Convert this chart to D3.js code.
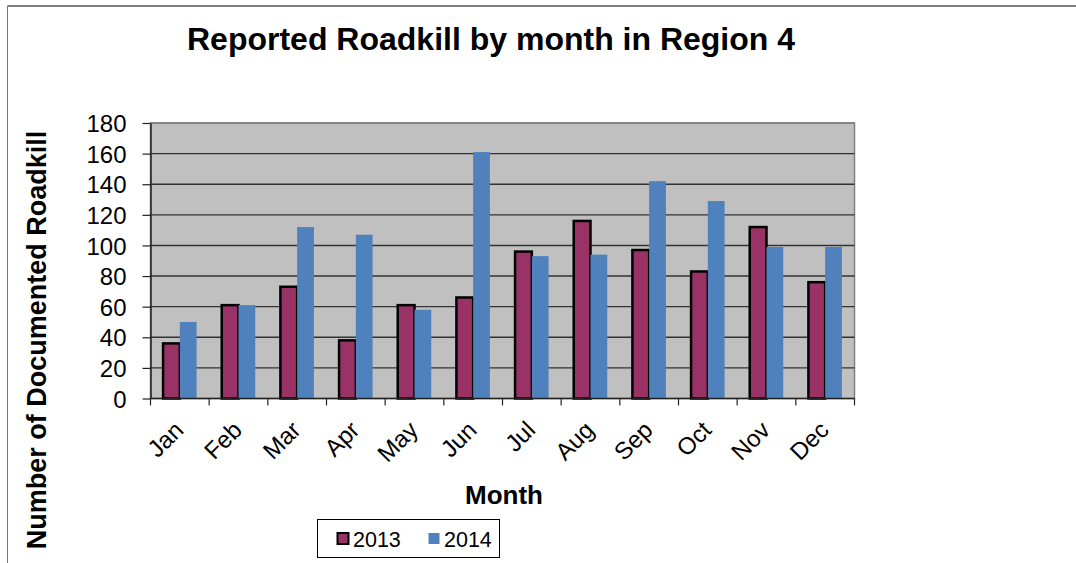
<!DOCTYPE html>
<html>
<head>
<meta charset="utf-8">
<script src="https://cdn.jsdelivr.net/npm/d3@7"></script>
<style>
  body { margin: 0; background: #fff; }
  svg { display: block; font-family: "Liberation Sans", Arial, sans-serif; }
</style>
</head>
<body>
<svg id="chart" width="1076" height="563"></svg>
<script>
const months = ["Jan","Feb","Mar","Apr","May","Jun","Jul","Aug","Sep","Oct","Nov","Dec"];
const series2013 = [36, 61, 73, 38, 61, 66, 96, 116, 97, 83, 112, 76];
const series2014 = [50, 61, 112, 107, 58, 161, 93, 94, 142, 129, 99, 99];
const seriesNames = ["2013", "2014"];
const yTicks = [0, 20, 40, 60, 80, 100, 120, 140, 160, 180];

const colors = { "2013": "#993366", "2014": "#4F81BD" };

(function () {
const svg = d3.select("#chart");
const pL = 150.5, pR = 854.5, pT = 123, pB = 398.5;

// Outer frame (top and left edges visible)
svg.append("line").attr("x1", 7.5).attr("x2", 1076).attr("y1", 6).attr("y2", 6)
  .attr("stroke", "#555").attr("stroke-width", 1.5);
svg.append("line").attr("x1", 7.5).attr("x2", 7.5).attr("y1", 6).attr("y2", 563)
  .attr("stroke", "#777").attr("stroke-width", 1);

const x0 = d3.scaleBand().domain(months).range([pL, pR]).paddingInner(0).paddingOuter(0);
const barW = x0.bandwidth() / 3.5;
const x1 = d3.scaleBand().domain(seriesNames).range([0, barW * 2]);
const y = d3.scaleLinear().domain([0, 180]).range([pB, pT]);

// plot background
svg.append("rect").attr("x", pL).attr("y", pT).attr("width", pR - pL).attr("height", pB - pT)
  .attr("fill", "#C0C0C0").attr("stroke", "#808080").attr("stroke-width", 1.5);

// gridlines
svg.append("g").selectAll("line").data(yTicks.filter(d => d > 0)).join("line")
  .attr("x1", pL).attr("x2", pR)
  .attr("y1", d => y(d)).attr("y2", d => y(d))
  .attr("stroke", d => d === 180 ? "#808080" : "#333").attr("stroke-width", 1.4);

// bars
const data = months.map((m, i) => ({ m, v: { "2013": series2013[i], "2014": series2014[i] } }));
const g = svg.append("g");
const groups = g.selectAll("g").data(data).join("g")
  .attr("transform", d => `translate(${x0(d.m) + (x0.bandwidth() - barW * 2) / 2},0)`);
groups.selectAll("rect").data(d => seriesNames.map(s => ({ s, v: d.v[s] }))).join("rect")
  .attr("x", d => x1(d.s))
  .attr("width", x1.bandwidth())
  .attr("y", d => y(d.v))
  .attr("height", d => pB - y(d.v))
  .attr("fill", d => colors[d.s])
  .attr("stroke", d => d.s === "2013" ? "#000" : "none")
  .attr("stroke-width", 2.5);

// y axis
const yAxis = d3.axisLeft(y).tickValues(yTicks).tickSize(8).tickSizeOuter(0).tickPadding(16);
const yg = svg.append("g").attr("transform", `translate(${pL},0)`).call(yAxis);
yg.select(".domain").attr("stroke", "#222").attr("stroke-width", 1.5);
yg.selectAll(".tick line").attr("stroke", "#222").attr("stroke-width", 1.2);
yg.selectAll(".tick text").attr("font-size", 24).attr("fill", "#000")
  .attr("font-family", "Liberation Sans, Arial, sans-serif").attr("dy", "0.36em");

// x axis
const tickPos = months.map(m => x0(m)).concat([pR]);
const xg = svg.append("g");
xg.append("line").attr("x1", pL).attr("x2", pR).attr("y1", pB).attr("y2", pB)
  .attr("stroke", "#222").attr("stroke-width", 1.5);
xg.selectAll("line.t").data(tickPos).join("line").attr("class", "t")
  .attr("x1", d => d).attr("x2", d => d).attr("y1", pB).attr("y2", pB + 7)
  .attr("stroke", "#222").attr("stroke-width", 1.2);
xg.selectAll("text").data(months).join("text")
  .attr("transform", d => `translate(${x0(d) + x0.bandwidth() / 2 + 5},${pB + 33}) rotate(-45)`)
  .attr("text-anchor", "end")
  .attr("font-size", 24)
  .attr("fill", "#000")
  .text(d => d);

// titles
svg.append("text").attr("x", 491).attr("y", 50).attr("text-anchor", "middle")
  .attr("font-size", 32).attr("font-weight", "bold").text("Reported Roadkill by month in Region 4");
svg.append("text").attr("x", 504).attr("y", 504).attr("text-anchor", "middle")
  .attr("font-size", 26).attr("font-weight", "bold").text("Month");
svg.append("text").attr("transform", "translate(46,340) rotate(-90)").attr("text-anchor", "middle")
  .attr("font-size", 27).attr("font-weight", "bold").text("Number of Documented Roadkill");

// legend
const lg = svg.append("g");
lg.append("rect").attr("x", 317.5).attr("y", 519.5).attr("width", 182).attr("height", 38)
  .attr("fill", "#fff").attr("stroke", "#000").attr("stroke-width", 1);
const items = [{ s: "2013", x: 337 }, { s: "2014", x: 428 }];
items.forEach(it => {
  lg.append("rect").attr("x", it.x + 0.5).attr("y", 533).attr("width", 11).attr("height", 11)
    .attr("fill", colors[it.s]).attr("stroke", it.s === "2013" ? "#000" : "none").attr("stroke-width", 2);
  lg.append("text").attr("x", it.x + 16).attr("y", 546.5).attr("font-size", 21.5).attr("fill", "#000").text(it.s);
});
})();
</script>
</body>
</html>
